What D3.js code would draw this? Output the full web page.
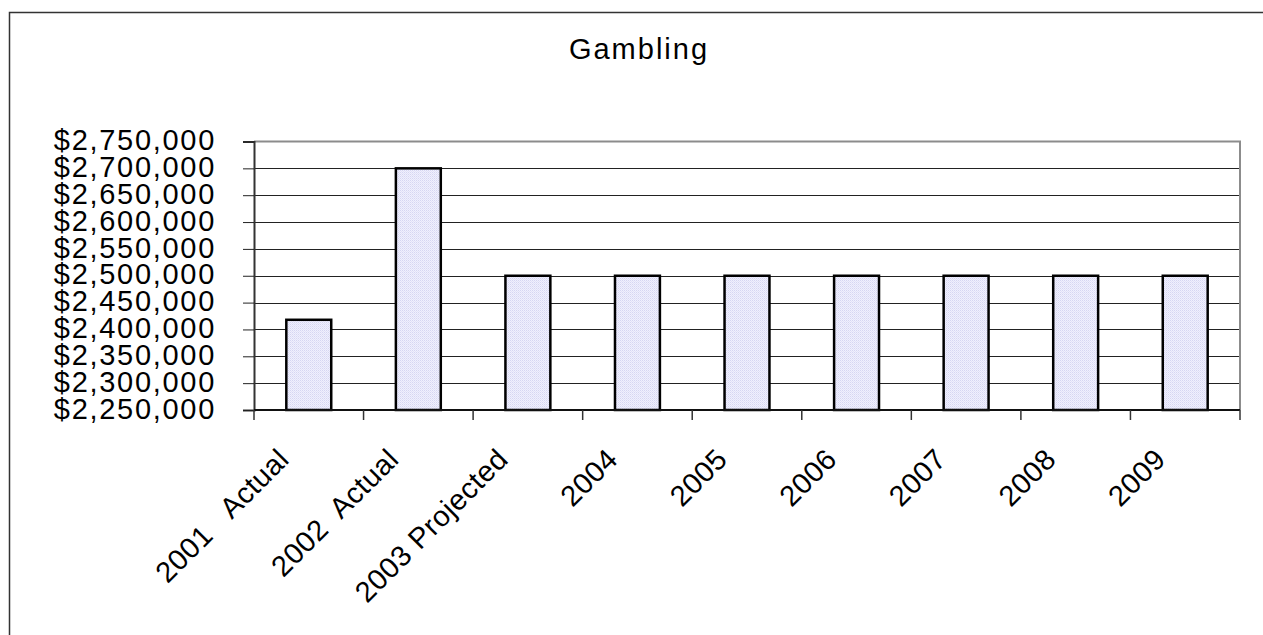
<!DOCTYPE html>
<html>
<head>
<meta charset="utf-8">
<script src="https://cdn.jsdelivr.net/npm/d3@7"></script>
<style>
  html, body { margin: 0; padding: 0; background: #fff; }
  svg { display: block; }
  text { font-family: Arial, "Liberation Sans", sans-serif; fill: #000; white-space: pre; }
</style>
</head>
<body>
<svg id="chart" width="1263" height="635"></svg>
<script>
// Gambling revenue by year
const categories = ["2001   Actual", "2002  Actual", "2003 Projected", "2004", "2005", "2006", "2007", "2008", "2009"];
const values = [2418000, 2700000, 2500000, 2500000, 2500000, 2500000, 2500000, 2500000, 2500000];
const yTicks = [2250000, 2300000, 2350000, 2400000, 2450000, 2500000, 2550000, 2600000, 2650000, 2700000, 2750000];
const title = "Gambling";

const svg = d3.select("#chart");
const plot = { left: 254, top: 141.5, right: 1240, bottom: 410 };

// Chart frame
svg.append("rect")
  .attr("x", 9.5).attr("y", 12.5)
  .attr("width", 1300).attr("height", 700)
  .attr("fill", "#fff").attr("stroke", "#333").attr("stroke-width", 1.5);

// Fine dotted fill for the bars
const defs = svg.append("defs");
const pat = defs.append("pattern")
  .attr("id", "barFill").attr("patternUnits", "userSpaceOnUse")
  .attr("width", 2).attr("height", 2);
pat.append("rect").attr("width", 2).attr("height", 2).attr("fill", "#f0f0fd");
pat.append("rect").attr("width", 1).attr("height", 1).attr("fill", "#d6d6f2");
pat.append("rect").attr("x", 1).attr("y", 1).attr("width", 1).attr("height", 1).attr("fill", "#e2e2f8");

const x = d3.scaleBand().domain(categories).range([plot.left, plot.right]).paddingInner(0).paddingOuter(0);
const y = d3.scaleLinear().domain([yTicks[0], yTicks[yTicks.length - 1]]).range([plot.bottom, plot.top]);

// Title
svg.append("text")
  .attr("x", 639).attr("y", 59)
  .attr("text-anchor", "middle")
  .style("font-size", "29px").style("letter-spacing", "2px")
  .text(title);

// Horizontal gridlines
svg.append("g").selectAll("line")
  .data(yTicks.slice(1, -1))
  .join("line")
  .attr("x1", plot.left).attr("x2", plot.right)
  .attr("y1", d => Math.round(y(d)) + 0.5).attr("y2", d => Math.round(y(d)) + 0.5)
  .attr("stroke", "#222").attr("stroke-width", 1);

// Plot area border (top and right)
svg.append("path")
  .attr("d", `M${plot.left},${plot.top} H${plot.right} V${plot.bottom}`)
  .attr("fill", "none").attr("stroke", "#8c8c8c").attr("stroke-width", 2);

// Bars
svg.append("g").selectAll("rect")
  .data(values)
  .join("rect")
  .attr("x", (d, i) => x(categories[i]) + x.bandwidth() * 0.295)
  .attr("width", x.bandwidth() * 0.41)
  .attr("y", d => y(d))
  .attr("height", d => y(yTicks[0]) - y(d))
  .attr("fill", "url(#barFill)")
  .attr("stroke", "#000").attr("stroke-width", 2.5);

// Y axis
const yAxis = d3.axisLeft(y)
  .tickValues(yTicks)
  .tickSize(11)
  .tickPadding(27)
  .tickFormat(d => "$" + d3.format(",")(d));
const gy = svg.append("g").attr("transform", `translate(${plot.left},0)`).call(yAxis);
gy.select(".domain").attr("stroke", "#333").attr("stroke-width", 2);
gy.selectAll(".tick line").attr("stroke", "#222").attr("stroke-width", 1);
gy.selectAll(".tick text")
  .style("font-size", "29px").style("letter-spacing", "1.7px")
  .attr("fill", "#000")
  .attr("dy", "0.28em");

// X axis line and ticks at category boundaries
const gx = svg.append("g");
gx.append("line")
  .attr("x1", plot.left).attr("x2", plot.right)
  .attr("y1", plot.bottom).attr("y2", plot.bottom)
  .attr("stroke", "#111").attr("stroke-width", 2);
const bounds = categories.map(c => x(c)).concat([plot.right]);
gx.selectAll("line.tick")
  .data(bounds)
  .join("line").attr("class", "tick")
  .attr("x1", d => d).attr("x2", d => d)
  .attr("y1", plot.bottom).attr("y2", plot.bottom + 10)
  .attr("stroke", "#333").attr("stroke-width", 1.5);

// Rotated category labels
gx.selectAll("text")
  .data(categories)
  .join("text")
  .attr("transform", d => `translate(${x(d) + x.bandwidth() / 2 - 18},461) rotate(-45)`)
  .attr("text-anchor", "end")
  .style("font-size", "29px").style("letter-spacing", "0.5px")
  .text(d => d);
</script>
</body>
</html>
